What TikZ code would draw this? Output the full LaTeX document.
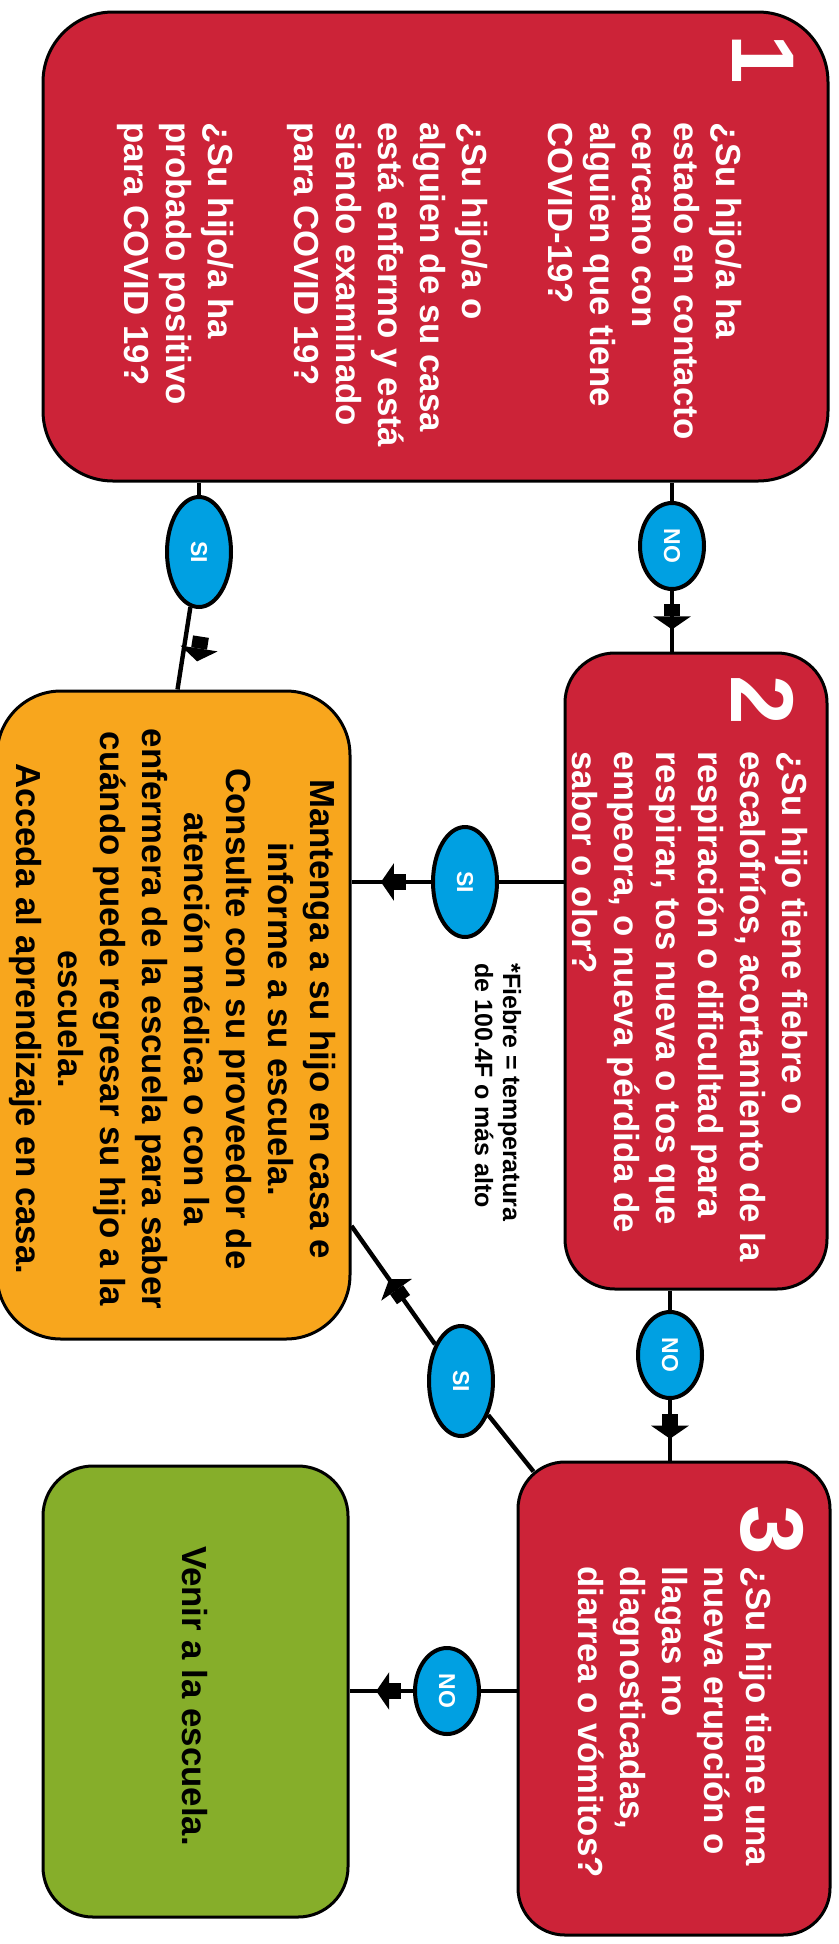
\documentclass[tikz,border=0pt]{standalone}
\usepackage{fontspec}
\setmainfont{Liberation Sans}
\usepackage{tikz}
\usetikzlibrary{arrows.meta}
\usetikzlibrary{calc}
\usetikzlibrary{fit}
\usetikzlibrary{shapes.geometric}
\usetikzlibrary{decorations.markings}

\definecolor{alertred}{RGB}{204,35,56}
\definecolor{stayorange}{RGB}{248,166,29}
\definecolor{gogreen}{RGB}{134,174,42}
\definecolor{answerblue}{RGB}{0,160,226}

\tikzset{
    blockarrow/.tip={Rectangle[length=6pt,width=8pt,sep=0pt] Triangle[length=6.5pt,width=18.5pt,sep=0pt]},
    card/.style={draw=black, line width=1.5pt, rounded corners=#1, inner sep=0pt},
    answer/.style={ellipse, draw=black, line width=2pt, fill=answerblue, inner sep=0pt,
        text=white, rotate=-90, font=\fontsize{11.5}{12}\selectfont\bfseries},
    noanswer/.style={answer, minimum width=43pt, minimum height=32pt},
    sianswer/.style={answer, minimum width=55pt, minimum height=32pt},
    link/.style={line width=2.2pt},
    arrowat/.style={postaction={decorate}, decoration={markings,
        mark=at position #1 with {\arrow{blockarrow}}}},
    bigtext/.style={rotate=-90, inner sep=0pt, font=\fontsize{17.4}{21}\selectfont\bfseries},
    stepnum/.style={rotate=-90, inner sep=0pt, text=white, font=\fontsize{44.5}{44.5}\selectfont\bfseries},
}

\begin{document}
\begin{tikzpicture}[x=0.5pt, y=-0.5pt]
        \useasboundingbox (0,0) rectangle (839,1944);

        % boxes
        \node[card=35pt, fill=alertred, fit={(43,12) (828,481)}] (box1) {};
        \node[card=25pt, fill=alertred, fit={(565,653) (827,1289)}] (box2) {};
        \node[card=32pt, fill=stayorange, fit={(-3,691) (350,1339)}] (orange) {};
        \node[card=23.5pt, fill=alertred, fit={(518,1462) (830,1935)}] (box3) {};
        \node[card=25pt, fill=gogreen, fit={(43,1466) (348,1917)}] (green) {};

        \node[stepnum] (num1) at (763,59) {1};
        \node[stepnum] (num2) at (763,700) {2};
        \node[stepnum] (num3) at (772,1530) {3};

        \node[bigtext, text=white, anchor=west, align=left] (q1text) at (429,122)
        {¿Su hijo/a ha\\estado en contacto\\cercano con\\alguien que tiene\\COVID-19?\\[22pt]
         ¿Su hijo/a o\\alguien de su casa\\está enfermo y está\\siendo examinado\\para COVID 19?\\[22pt]
         ¿Su hijo/a ha\\probado positivo\\para COVID 19?};

        \node[bigtext, text=white, anchor=west, align=left] (q2text) at (690,751)
        {¿Su hijo tiene fiebre o\\escalofríos, acortamiento de la\\respiración o dificultad para\\respirar,
         tos nueva o tos que\\empeora, o nueva pérdida de\\sabor o olor?};

        \node[bigtext, text=white, anchor=west, align=left] (q3text) at (675,1566)
        {¿Su hijo tiene una\\nueva erupción o\\llagas no\\diagnosticadas,\\diarrea o vómitos?};

        \node[bigtext, align=center] (staytext) at (172,1019)
        {Mantenga a su hijo en casa e\\informe a su escuela.\\Consulte con su proveedor de\\atención médica o con la\\enfermera
         de la escuela para saber\\cuándo puede regresar su hijo a la\\escuela.\\Acceda al aprendizaje en casa.};

        \node[bigtext] (gotext) at (195,1696) {Venir a la escuela.};

        \node[rotate=-90, inner sep=0pt, anchor=west, align=left,
        font=\fontsize{12.5}{14}\selectfont\bfseries] (fevernote) at (498,963)
        {*Fiebre = temperatura\\de 100.4F o más alto};

        % answers
        \node[noanswer] (no1) at (672,546) {NO};
        \node[sianswer] (si1) at (199,552) {SI};
        \node[sianswer] (si2) at (465,882) {SI};
        \node[noanswer] (no2) at (670,1355) {NO};
        \node[sianswer] (si3) at (461,1381) {SI};
        \node[noanswer] (no3) at (447,1691) {NO};

        % connectors
        \draw[link] (box1.south -| no1) -- (no1);
        \draw[link, arrowat=0.635] (no1) -- (box2.north -| no1);

        \draw[link] (box1.south -| si1) -- (si1);
        \draw[link, postaction={decorate}, decoration={markings,
        mark=at position 0.63 with {\pgftransformyshift{7.5pt}\arrow{blockarrow}}}]
        (si1) -- ([xshift=2pt]orange.north);

        \draw[link] (box2.west |- si2) -- (si2);
        \draw[link, arrowat=0.63] (si2) -- (orange.east |- si2);

        \draw[link] (box2.south -| no2) -- (no2);
        \draw[link, arrowat=0.64] (no2) -- (box3.north -| no2);

        \coordinate (box3corner) at ($(box3.north west)+(17,11)$);
        \coordinate (orangeside) at ($(orange.south east)!0.176!(orange.north east)$);
        \draw[link] (box3corner) -- (si3);
        \draw[link, arrowat=0.55] (si3) -- (orangeside);

        \draw[link] (box3.west |- no3) -- (no3);
        \draw[link, arrowat=0.58] (no3) -- (green.east |- no3);
\end{tikzpicture}
\end{document}
